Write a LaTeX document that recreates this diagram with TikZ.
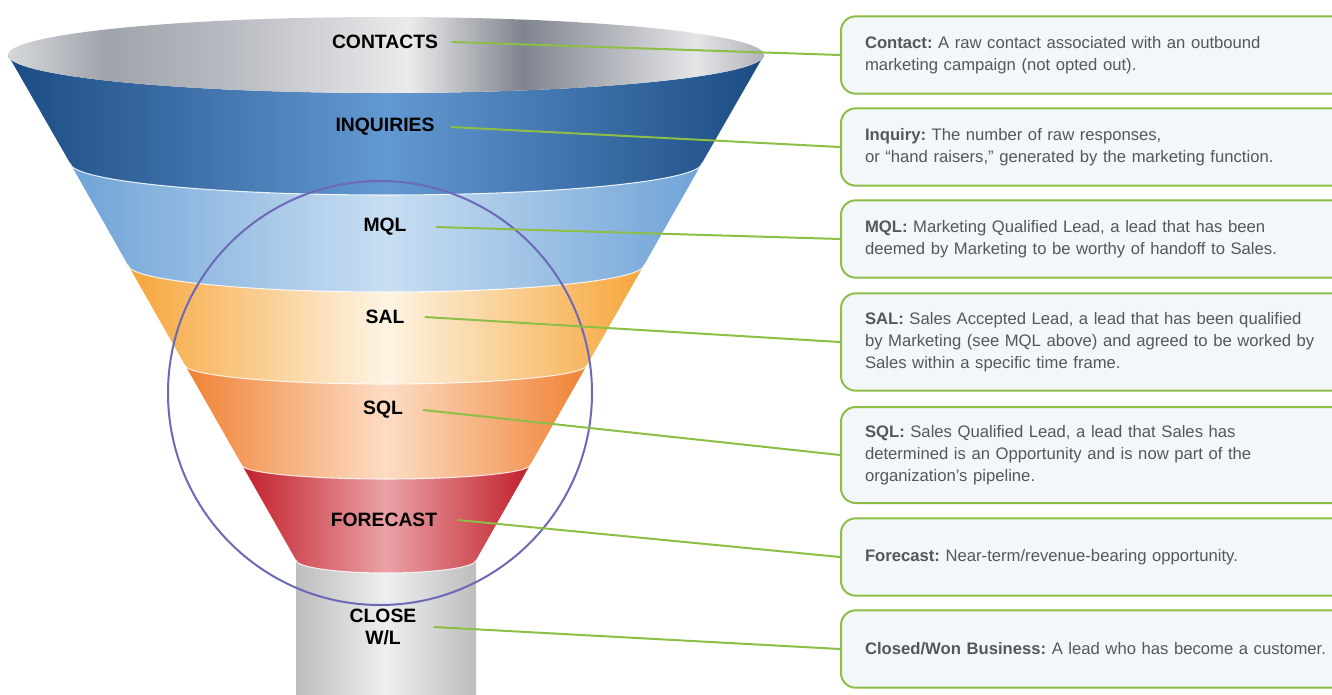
\documentclass[tikz,border=0pt]{standalone}
\usepackage{fontspec}
\setmainfont{Liberation Sans}
\usepackage{tikz}
\frenchspacing

\definecolor{leafgreen}{HTML}{8DBE45}
\definecolor{boxfill}{HTML}{F3F7FA}
\definecolor{notegray}{HTML}{55585B}
\definecolor{ringviolet}{HTML}{6C69B6}
\definecolor{navy}{HTML}{1B4B82}
\definecolor{bluemid}{HTML}{6399D2}
\definecolor{skyedge}{HTML}{6FA3D7}
\definecolor{skymid}{HTML}{C8DEF2}
\definecolor{amber}{HTML}{F6A53A}
\definecolor{cream}{HTML}{FDF4E4}
\definecolor{tangerine}{HTML}{F08234}
\definecolor{peach}{HTML}{FCDCC4}
\definecolor{crimson}{HTML}{C21F2B}
\definecolor{rose}{HTML}{E9A2A6}
\definecolor{pipegray}{HTML}{BDBDBD}
\definecolor{pipelight}{HTML}{EEEFF0}
\definecolor{m0}{HTML}{D6D8DB}
\definecolor{m1}{HTML}{9FA3AB}
\definecolor{m2}{HTML}{B9BCC2}
\definecolor{m3}{HTML}{EBEBEC}
\definecolor{m4}{HTML}{80848F}
\definecolor{m5}{HTML}{B4B7BE}
\definecolor{m6}{HTML}{E4E5E7}
\definecolor{m7}{HTML}{B0B3B9}
\pgfdeclarehorizontalshading{metal}{100bp}{color(0bp)=(m0); color(25bp)=(m0); color(31.5bp)=(m1); color(40bp)=(m2); color(51.5bp)=(m3); color(59bp)=(m4); color(65bp)=(m5); color(70.5bp)=(m6); color(75bp)=(m7); color(100bp)=(m7)}

\tikzset{
	stage/.style={font=\fontsize{14.5}{17}\selectfont\bfseries, align=center, inner sep=0pt},
	info/.style={draw=leafgreen, line width=1.5pt, fill=boxfill, rounded corners=11pt, anchor=west,
		text width=352pt, inner xsep=18pt, align=left, minimum height=58pt, text=notegray,
		font=\fontsize{12.5}{16.5}\selectfont},
	link/.style={draw=leafgreen, line width=1.5pt}
}

\begin{document}
\begin{tikzpicture}[x=0.75pt, y=0.75pt]
	\useasboundingbox (0,0) rectangle (1332,-694);
	\shade[left color=pipegray, right color=pipegray, middle color=pipelight] (296,-555) rectangle (476,-694);
	\foreach \ya/\wa/\ra/\yb/\wb/\rb/\ce/\cm in {55/378/38/163/316/32/navy/bluemid, 163/316/32/265/258/27/skyedge/skymid,
		265/258/27/365/201/19/amber/cream, 365/201/19/465/144/14/tangerine/peach, 465/144/14/560/90/13/crimson/rose}
		\shade[left color=\ce, right color=\ce, middle color=\cm] (386-\wb,-\yb) arc[start angle=180, end angle=360, x radius=\wb, y radius=\rb]
			-- (386+\wa,-\ya) arc[start angle=0, end angle=-180, x radius=\wa, y radius=\ra] -- cycle;
	\foreach \y/\w/\r in {163/316/32, 265/258/27, 365/201/19, 465/144/14, 560/90/13}
		\draw[white, line width=0.8pt, opacity=0.8] (386-\w,-\y) arc[start angle=180, end angle=360, x radius=\w, y radius=\r];
	\shade[shading=metal] (386,-55) ellipse [x radius=378, y radius=38];
	\draw[ringviolet, line width=1.5pt] (380,-393) circle [radius=212];

	\node[stage] (contacts) at (385,-42) {CONTACTS};
	\node[stage] (inquiries) at (385,-127) {INQUIRIES};
	\node[stage] (mql) at (385,-227) {MQL};
	\node[stage] (sal) at (385,-317) {SAL};
	\node[stage] (sql) at (383,-410) {SQL};
	\node[stage] (forecast) at (384,-520) {FORECAST};
	\node[stage] (close) at (383,-627) {CLOSE\\W/L};

	\node[info] (contact-box) at (840,-55) {\textbf{Contact:} A raw contact associated with an outbound\\marketing campaign (not opted out).};
	\node[info] (inquiry-box) at (840,-147) {\textbf{Inquiry:} The number of raw responses,\\or “hand raisers,” generated by the marketing function.};
	\node[info] (mql-box) at (840,-239) {\textbf{MQL:} Marketing Qualified Lead, a lead that has been\\deemed by Marketing to be worthy of handoff to Sales.};
	\node[info, minimum height=73pt] (sal-box) at (840,-342) {\textbf{SAL:} Sales Accepted Lead, a lead that has been qualified\\by Marketing (see MQL above) and agreed to be worked by\\Sales within a specific time frame.};
	\node[info, minimum height=72pt] (sql-box) at (840,-455) {\textbf{SQL:} Sales Qualified Lead, a lead that Sales has\\determined is an Opportunity and is now part of the\\organization’s pipeline.};
	\node[info] (forecast-box) at (840,-557) {\textbf{Forecast:} Near-term/revenue-bearing opportunity.};
	\node[info] (won-box) at (840,-649) {\textbf{Closed/Won Business:} A lead who has become a customer.};

	\foreach \a/\b/\s in {contacts/contact-box/10pt, inquiries/inquiry-box/12pt, mql/mql-box/22pt, sal/sal-box/15pt,
		sql/sql-box/15pt, forecast/forecast-box/15pt, close/won-box/13pt}
		\draw[link] ([xshift=\s]\a.east) -- (\b.west);
\end{tikzpicture}
\end{document}
